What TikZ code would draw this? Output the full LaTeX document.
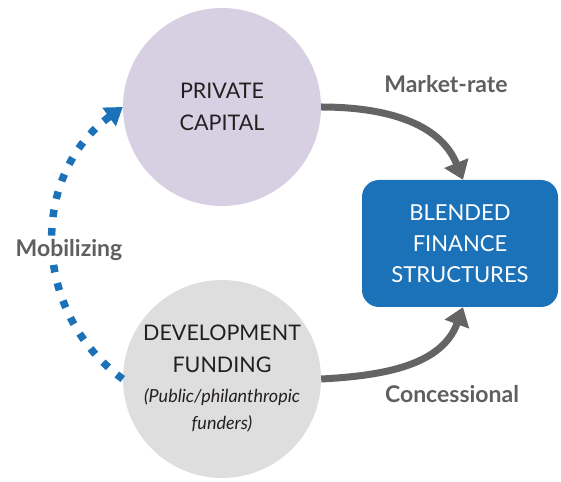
\documentclass[tikz,border=0pt]{standalone}
\usepackage{fontspec}
\setmainfont{Lato}
\usetikzlibrary{arrows.meta}
\definecolor{lav}{RGB}{214,208,226}
\definecolor{lgray}{RGB}{222,222,222}
\definecolor{bblue}{RGB}{27,114,184}
\definecolor{agray}{RGB}{100,100,100}
\definecolor{tgray}{RGB}{95,95,95}
\definecolor{ink}{RGB}{35,31,32}
\begin{document}
\begin{tikzpicture}[x=1pt,y=1pt,
  bubble/.style={circle, inner sep=0pt, minimum size=198pt, align=center, text=ink, font=\fontsize{21.5}{32}\selectfont},
  blendbox/.style={rectangle, rounded corners=17pt, fill=bblue, text=white, minimum width=196pt, minimum height=127pt, inner sep=0pt, align=center, font=\fontsize{22}{31}\selectfont},
  flow/.style={line width=7pt, draw=agray, -{Triangle[width=25pt,length=18pt]}},
  mob/.style={line width=7.5pt, draw=bblue, dash pattern=on 7.5pt off 11pt, -{Triangle[width=22pt,length=17pt]}},
  lbl/.style={font=\fontsize{23}{26}\selectfont\bfseries, text=tgray}
]
\useasboundingbox (0,0) rectangle (561,481);
\node[bubble, fill=lav] (priv) at (222,374) {PRIVATE\\CAPITAL};
\node[bubble, fill=lgray] (dev) at (222,102) {DEVELOPMENT\\FUNDING\\[-2pt]{\itshape\fontsize{18}{28}\selectfont (Public/philanthropic}\\[-5pt]{\itshape\fontsize{18}{28}\selectfont funders)}};
\node[blendbox] (box) at (460,237.5) {BLENDED\\FINANCE\\STRUCTURES};
\node[lbl, anchor=base] (mr) at (446,388) {Market-rate};
\node[lbl, anchor=base] (cs) at (452,78) {Concessional};
\draw[flow] (priv.east) to[out=0,in=112] ([xshift=3pt]box.north);
\draw[flow] (dev.east) to[out=3,in=250] ([xshift=3pt]box.south);
\draw[mob] (dev.west) to[out=144,in=216,looseness=1.08] (priv.west);
\node[lbl, anchor=base, fill=white, inner sep=2pt] (mz) at (69,224) {Mobilizing};
\end{tikzpicture}
\end{document}
